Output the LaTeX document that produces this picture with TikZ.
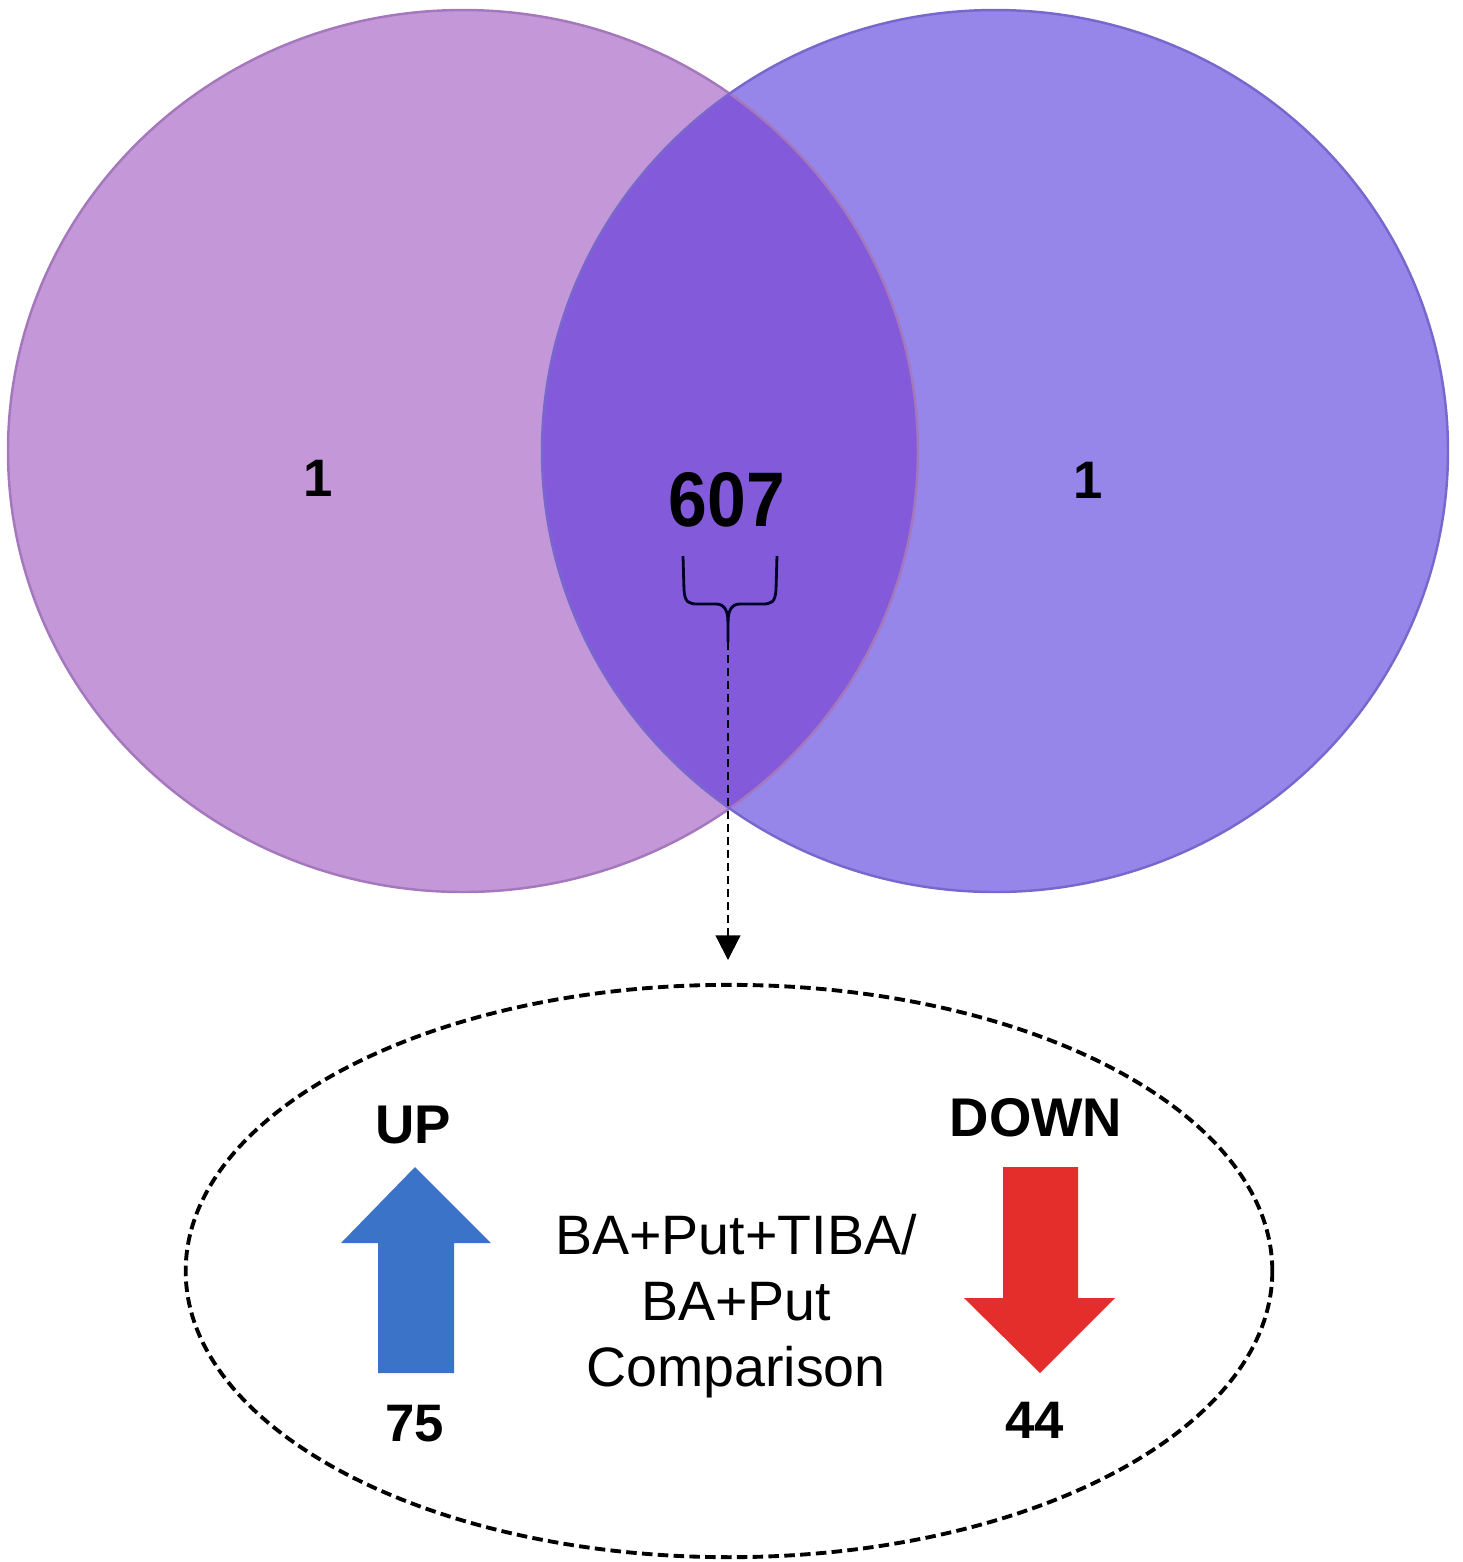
\documentclass[tikz,border=0pt]{standalone}
\usepackage{fontspec}
\setmainfont{Liberation Sans}
\usetikzlibrary{arrows.meta,shapes.geometric}
\definecolor{setA}{RGB}{196,151,216}
\definecolor{setB}{RGB}{150,134,233}
\definecolor{setAB}{RGB}{131,91,218}
\definecolor{edgeA}{RGB}{165,120,190}
\definecolor{edgeB}{RGB}{120,104,205}
\definecolor{upblue}{RGB}{58,115,200}
\definecolor{downred}{RGB}{228,46,44}
\tikzset{
  count/.style={font=\fontsize{15}{18}\selectfont\bfseries, inner sep=0pt},
  bigcount/.style={font=\fontsize{22}{26}\selectfont\bfseries, inner sep=0pt, xscale=0.9},
  tag/.style={font=\fontsize{15.5}{18}\selectfont\bfseries, inner sep=0pt},
  caption/.style={font=\fontsize{15.8}{18.8}\selectfont, align=center, inner sep=0pt},
  lead/.style={dash pattern=on 2.3pt off 1.4pt, line width=0.6pt, -{Triangle[width=7pt,length=7pt]}},
  frame/.style={draw, ellipse, dash pattern=on 3pt off 1.5pt, line width=1.1pt,
    minimum width=10.86cm, minimum height=5.72cm, inner sep=0pt},
}
\begin{document}
\begin{tikzpicture}[x=0.01cm, y=-0.01cm]
\useasboundingbox (0,0) rectangle (1463,1562);

% two sets and their overlap
\fill[setA] (463,451) ellipse [x radius=455, y radius=441];
\fill[setB] (995,451) ellipse [x radius=453, y radius=441];
\begin{scope}
  \clip (463,451) ellipse [x radius=455, y radius=441];
  \fill[setAB] (995,451) ellipse [x radius=453, y radius=441];
\end{scope}
\draw[edgeA, line width=0.7pt] (463,451) ellipse [x radius=455, y radius=441];
\draw[edgeB, line width=0.7pt] (995,451) ellipse [x radius=453, y radius=441];

\node[count] (onlyA) at (318,478) {1};
\node[count] (onlyB) at (1088,480) {1};
\node[bigcount] (both) at (727,500) {607};

% brace under the shared count
\coordinate (bracetip) at (728,642);
\draw[line width=0.8pt, black!85!blue] (683,556) -- (684,590) .. controls (685,602) and (688,604) .. (698,604)
  -- (716,604) .. controls (724,604) and (728,610) .. (728,622) -- (bracetip);
\draw[line width=0.8pt, black!85!blue] (777,556) -- (776,590) .. controls (775,602) and (772,604) .. (762,604)
  -- (740,604) .. controls (732,604) and (728,610) .. (728,622);

\coordinate (arrowend) at (728,960);
\draw[lead] (bracetip) -- (arrowend);

% breakdown of the shared set
\node[frame] (detail) at (729,1271) {};

\node[tag] (up) at (413,1125) {UP};
\node[tag] (down) at (1036,1118) {DOWN};

\fill[upblue] (415,1167) -- (491,1243) -- (454,1243) -- (454,1373) -- (378,1373) -- (378,1243) -- (341,1243) -- cycle;
\fill[downred] (1003,1167) -- (1078,1167) -- (1078,1298) -- (1115,1298) -- (1040,1373) -- (964,1298) -- (1003,1298) -- cycle;

\node[count] (upn) at (415,1424) {75};
\node[count] (downn) at (1035,1420) {44};

\node[caption] (cmp) at (736,1306) {BA+Put+TIBA/\\BA+Put\\Comparison};
\end{tikzpicture}
\end{document}
